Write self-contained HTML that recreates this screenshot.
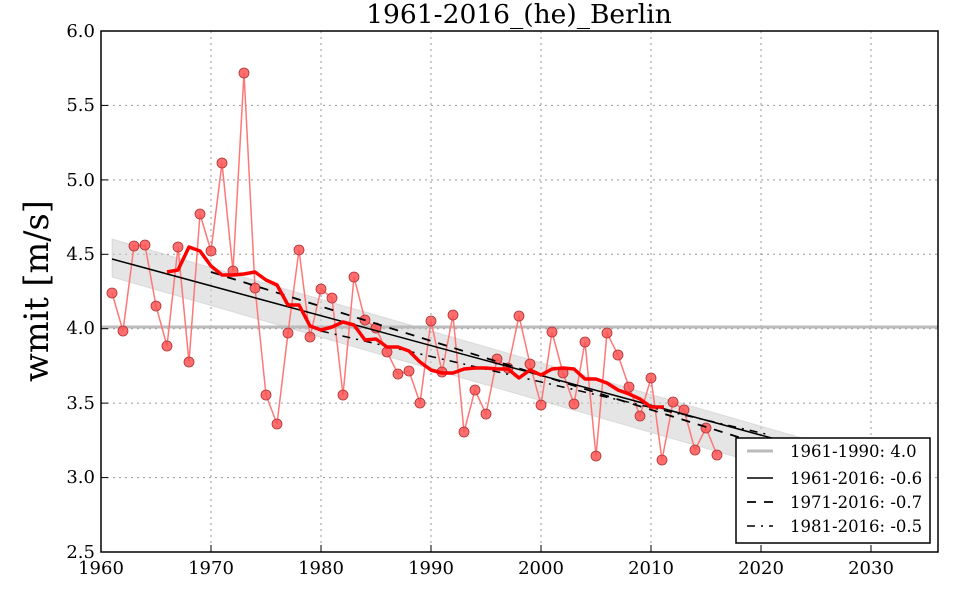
<!DOCTYPE html>
<html><head><meta charset="utf-8"><style>body{margin:0;background:#fff}svg{display:block}</style></head><body>
<svg width="960" height="600" xmlns="http://www.w3.org/2000/svg" font-family="'DejaVu Serif','Liberation Serif',serif">
<rect width="960" height="600" fill="#fff"/>
<g stroke="#999" stroke-dasharray="2,4" stroke-width="1">
<line x1="211" y1="31" x2="211" y2="552"/><line x1="321" y1="31" x2="321" y2="552"/><line x1="431" y1="31" x2="431" y2="552"/><line x1="541" y1="31" x2="541" y2="552"/><line x1="651" y1="31" x2="651" y2="552"/><line x1="761" y1="31" x2="761" y2="552"/><line x1="871" y1="31" x2="871" y2="552"/>
<line x1="101" y1="105.4" x2="938" y2="105.4"/><line x1="101" y1="179.9" x2="938" y2="179.9"/><line x1="101" y1="254.3" x2="938" y2="254.3"/><line x1="101" y1="328.7" x2="938" y2="328.7"/><line x1="101" y1="403.1" x2="938" y2="403.1"/><line x1="101" y1="477.6" x2="938" y2="477.6"/>
</g>
<polygon points="112,239 802,438 802,476 112,277" fill="#ccc" fill-opacity="0.5" stroke="#bbb" stroke-opacity="0.4"/>
<line x1="101" y1="327" x2="938" y2="327" stroke="#bbb" stroke-width="3"/>
<polyline fill="none" stroke="#f77" stroke-width="1.5" points="112,293 123,331 134,246 145,245 156,306 167,346 178,247 189,362 200,214 211,251 222,163 233,271 244,73 255,288 266,395 277,424 288,333 299,250 310,337 321,289 332,298 343,395 354,277 365,320 376,328 387,352 398,374 409,371 420,403 431,321 442,372 453,315 464,432 475,390 486,414 497,359 508,368 519,316 530,364 541,405 552,332 563,373 574,404 585,342 596,456 607,333 618,355 629,387 640,416 651,378 662,460 673,402 684,410 695,450 706,428 717,455"/>
<g fill="#f55" fill-opacity="0.85" stroke="#a33" stroke-width="0.8">
<circle cx="112" cy="293" r="5"/><circle cx="123" cy="331" r="5"/><circle cx="134" cy="246" r="5"/><circle cx="145" cy="245" r="5"/><circle cx="156" cy="306" r="5"/><circle cx="167" cy="346" r="5"/><circle cx="178" cy="247" r="5"/><circle cx="189" cy="362" r="5"/><circle cx="200" cy="214" r="5"/><circle cx="211" cy="251" r="5"/><circle cx="222" cy="163" r="5"/><circle cx="233" cy="271" r="5"/><circle cx="244" cy="73" r="5"/><circle cx="255" cy="288" r="5"/><circle cx="266" cy="395" r="5"/><circle cx="277" cy="424" r="5"/><circle cx="288" cy="333" r="5"/><circle cx="299" cy="250" r="5"/><circle cx="310" cy="337" r="5"/><circle cx="321" cy="289" r="5"/><circle cx="332" cy="298" r="5"/><circle cx="343" cy="395" r="5"/><circle cx="354" cy="277" r="5"/><circle cx="365" cy="320" r="5"/><circle cx="376" cy="328" r="5"/><circle cx="387" cy="352" r="5"/><circle cx="398" cy="374" r="5"/><circle cx="409" cy="371" r="5"/><circle cx="420" cy="403" r="5"/><circle cx="431" cy="321" r="5"/><circle cx="442" cy="372" r="5"/><circle cx="453" cy="315" r="5"/><circle cx="464" cy="432" r="5"/><circle cx="475" cy="390" r="5"/><circle cx="486" cy="414" r="5"/><circle cx="497" cy="359" r="5"/><circle cx="508" cy="368" r="5"/><circle cx="519" cy="316" r="5"/><circle cx="530" cy="364" r="5"/><circle cx="541" cy="405" r="5"/><circle cx="552" cy="332" r="5"/><circle cx="563" cy="373" r="5"/><circle cx="574" cy="404" r="5"/><circle cx="585" cy="342" r="5"/><circle cx="596" cy="456" r="5"/><circle cx="607" cy="333" r="5"/><circle cx="618" cy="355" r="5"/><circle cx="629" cy="387" r="5"/><circle cx="640" cy="416" r="5"/><circle cx="651" cy="378" r="5"/><circle cx="662" cy="460" r="5"/><circle cx="673" cy="402" r="5"/><circle cx="684" cy="410" r="5"/><circle cx="695" cy="450" r="5"/><circle cx="706" cy="428" r="5"/><circle cx="717" cy="455" r="5"/>
</g>
<line x1="112" y1="259" x2="790" y2="443" stroke="#000" stroke-width="1.5"/>
<line x1="211" y1="272" x2="770" y2="447" stroke="#000" stroke-width="1.8" stroke-dasharray="9,8"/>
<line x1="321" y1="331" x2="770" y2="435" stroke="#000" stroke-width="1.5" stroke-dasharray="8,6,2,6"/>
<polyline fill="none" stroke="#f00" stroke-width="3.5" stroke-linejoin="round" points="167,272 178,270 189,247 200,251 211,266 222,275 233,275 244,274 255,272 266,280 277,285 288,305 299,305 310,326 321,330 332,327 343,322 354,325 365,340 376,339 387,347 398,347 409,351 420,362 431,370 442,373 453,373 464,369 475,368 486,368 497,369 508,369 519,378 530,370 541,375 552,369 563,368 574,369 585,379 596,379 607,383 618,390 629,394 640,399 651,407 664,407"/>
<rect x="101" y="31" width="837" height="521" fill="none" stroke="#000" stroke-width="1.5"/>
<g stroke="#000" stroke-width="1">
<line x1="211" y1="552" x2="211" y2="545"/><line x1="321" y1="552" x2="321" y2="545"/><line x1="431" y1="552" x2="431" y2="545"/><line x1="541" y1="552" x2="541" y2="545"/><line x1="651" y1="552" x2="651" y2="545"/><line x1="761" y1="552" x2="761" y2="545"/><line x1="871" y1="552" x2="871" y2="545"/>
<line x1="101" y1="105.4" x2="108" y2="105.4"/><line x1="101" y1="179.9" x2="108" y2="179.9"/><line x1="101" y1="254.3" x2="108" y2="254.3"/><line x1="101" y1="328.7" x2="108" y2="328.7"/><line x1="101" y1="403.1" x2="108" y2="403.1"/><line x1="101" y1="477.6" x2="108" y2="477.6"/>
</g>
<g font-size="18" text-anchor="middle" fill="#000">
<text x="101" y="574">1960</text><text x="211" y="574">1970</text><text x="321" y="574">1980</text><text x="431" y="574">1990</text><text x="541" y="574">2000</text><text x="651" y="574">2010</text><text x="761" y="574">2020</text><text x="871" y="574">2030</text>
</g>
<g font-size="18" text-anchor="end" fill="#000">
<text x="95" y="37">6.0</text><text x="95" y="111">5.5</text><text x="95" y="186">5.0</text><text x="95" y="260">4.5</text><text x="95" y="334">4.0</text><text x="95" y="409">3.5</text><text x="95" y="483">3.0</text><text x="95" y="558">2.5</text>
</g>
<text x="519" y="23" font-size="26.5" text-anchor="middle">1961-2016_(he)_Berlin</text>
<text transform="translate(48,291) rotate(-90)" font-size="33.5" text-anchor="middle">wmit [m/s]</text>
<rect x="736" y="438" width="194" height="105" fill="#fff" stroke="#000" stroke-width="1.5"/>
<line x1="747" y1="451" x2="773" y2="451" stroke="#bbb" stroke-width="3"/>
<line x1="747" y1="478" x2="773" y2="478" stroke="#000" stroke-width="1.5"/>
<line x1="747" y1="502" x2="773" y2="502" stroke="#000" stroke-width="1.8" stroke-dasharray="9,8"/>
<line x1="747" y1="526" x2="773" y2="526" stroke="#000" stroke-width="1.5" stroke-dasharray="8,6,2,6"/>
<g font-size="16.5" fill="#000">
<text x="790" y="457">1961-1990: 4.0</text><text x="790" y="484">1961-2016: -0.6</text><text x="790" y="508">1971-2016: -0.7</text><text x="790" y="532">1981-2016: -0.5</text>
</g>
</svg>
</body></html>
